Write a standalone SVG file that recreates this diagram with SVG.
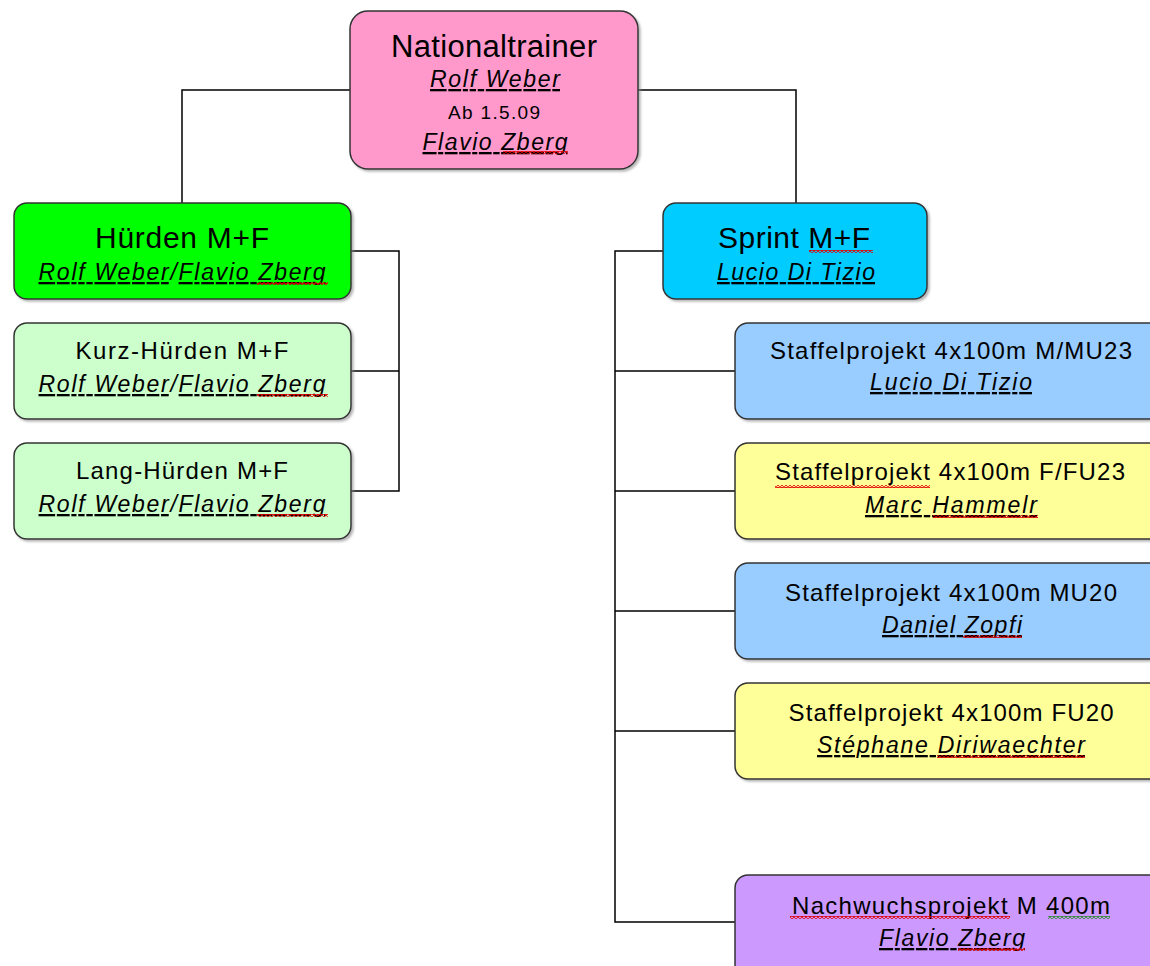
<svg xmlns="http://www.w3.org/2000/svg" width="1150" height="966" viewBox="0 0 1150 966">
<defs>
<filter id="sh" x="-5%" y="-5%" width="115%" height="120%">
<feDropShadow dx="2" dy="2" stdDeviation="1" flood-color="#888" flood-opacity="0.6"/>
</filter>
<pattern id="sqr" patternUnits="userSpaceOnUse" width="4" height="3">
<path d="M0,0.5 L2,2.5 L4,0.5" fill="none" stroke="#e00000" stroke-width="1.2"/>
</pattern>
<pattern id="sqg" patternUnits="userSpaceOnUse" width="4" height="3">
<path d="M0,0.5 L2,2.5 L4,0.5" fill="none" stroke="#2a8a2a" stroke-width="1.2"/>
</pattern>
</defs>
<style>
.box{stroke:#333;stroke-width:1.5;filter:url(#sh)}
text{font-family:"Liberation Sans",Arial,sans-serif;fill:#000;text-anchor:middle}
.nm{font-style:italic}
.u{text-decoration:underline}
.c{fill:none;stroke:#000;stroke-width:1.5}
</style>
<rect width="1150" height="966" fill="#fff"/>
<g id="connectors">
<polyline class="c" points="350,90 182,90 182,203"/>
<polyline class="c" points="638,90 796,90 796,203"/>
<polyline class="c" points="351,251 399,251 399,491 351,491"/>
<line class="c" x1="351" y1="371" x2="399" y2="371"/>
<polyline class="c" points="663,251 615,251 615,922 735,922"/>
<line class="c" x1="615" y1="371" x2="735" y2="371"/>
<line class="c" x1="615" y1="491" x2="735" y2="491"/>
<line class="c" x1="615" y1="611" x2="735" y2="611"/>
<line class="c" x1="615" y1="731" x2="735" y2="731"/>
</g>
<g id="nationaltrainer">
<rect class="box" x="350" y="11" width="288" height="158" rx="18" fill="#ff99cc"/>
<text x="494" y="57" font-size="31" textLength="206" lengthAdjust="spacing">Nationaltrainer</text>
<text x="495" y="87" font-size="23" class="nm u" textLength="130" lengthAdjust="spacing">Rolf Weber</text>
<text x="494" y="119" font-size="19" textLength="92" lengthAdjust="spacing">Ab 1.5.09</text>
<text x="495" y="150" font-size="23" class="nm u" textLength="145" lengthAdjust="spacing">Flavio Zberg</text>
<rect x="503" y="151" width="65" height="3" fill="url(#sqr)"/>
</g>
<g id="huerden">
<rect class="box" x="14" y="203" width="337" height="96" rx="13" fill="#00ff00"/>
<text x="182" y="248" font-size="30" textLength="174" lengthAdjust="spacing">Hürden M+F</text>
<text x="182" y="280" font-size="23" class="nm" textLength="287" lengthAdjust="spacing"><tspan class="u">Rolf Weber</tspan>/<tspan class="u">Flavio Zberg</tspan></text>
<rect x="257" y="282" width="71" height="3" fill="url(#sqr)"/>
</g>
<g id="kurz-huerden">
<rect class="box" x="14" y="323" width="337" height="96" rx="13" fill="#ccffcc"/>
<text x="182" y="359" font-size="24" textLength="213" lengthAdjust="spacing">Kurz-Hürden M+F</text>
<text x="182" y="392" font-size="23" class="nm" textLength="287" lengthAdjust="spacing"><tspan class="u">Rolf Weber</tspan>/<tspan class="u">Flavio Zberg</tspan></text>
<rect x="257" y="394" width="71" height="3" fill="url(#sqr)"/>
</g>
<g id="lang-huerden">
<rect class="box" x="14" y="443" width="337" height="96" rx="13" fill="#ccffcc"/>
<text x="182" y="479" font-size="24" textLength="212" lengthAdjust="spacing">Lang-Hürden M+F</text>
<text x="182" y="512" font-size="23" class="nm" textLength="287" lengthAdjust="spacing"><tspan class="u">Rolf Weber</tspan>/<tspan class="u">Flavio Zberg</tspan></text>
<rect x="257" y="514" width="71" height="3" fill="url(#sqr)"/>
</g>
<g id="sprint">
<rect class="box" x="663" y="203" width="264" height="96" rx="13" fill="#00ccff"/>
<text x="794" y="248" font-size="30" textLength="152" lengthAdjust="spacing">Sprint M+F</text>
<rect x="809" y="250" width="64" height="3" fill="url(#sqr)"/>
<text x="796" y="280" font-size="23" class="nm u" textLength="158" lengthAdjust="spacing">Lucio Di Tizio</text>
</g>
<g id="staffel-m-mu23">
<rect class="box" x="735" y="323" width="440" height="96" rx="13" fill="#99ccff"/>
<text x="951" y="359" font-size="24" textLength="362" lengthAdjust="spacing">Staffelprojekt 4x100m M/MU23</text>
<text x="951" y="390" font-size="23" class="nm u" textLength="162" lengthAdjust="spacing">Lucio Di Tizio</text>
</g>
<g id="staffel-f-fu23">
<rect class="box" x="735" y="443" width="440" height="96" rx="13" fill="#ffff99"/>
<text x="950" y="480" font-size="24" textLength="350" lengthAdjust="spacing">Staffelprojekt 4x100m F/FU23</text>
<rect x="775" y="485" width="155" height="3" fill="url(#sqr)"/>
<text x="951" y="513" font-size="23" class="nm u" textLength="172" lengthAdjust="spacing">Marc Hammelr</text>
<rect x="933" y="515" width="105" height="3" fill="url(#sqr)"/>
</g>
<g id="staffel-mu20">
<rect class="box" x="735" y="563" width="440" height="96" rx="13" fill="#99ccff"/>
<text x="951" y="601" font-size="24" textLength="332" lengthAdjust="spacing">Staffelprojekt 4x100m MU20</text>
<text x="952" y="633" font-size="23" class="nm u" textLength="140" lengthAdjust="spacing">Daniel Zopfi</text>
<rect x="963" y="635" width="59" height="3" fill="url(#sqr)"/>
</g>
<g id="staffel-fu20">
<rect class="box" x="735" y="683" width="440" height="96" rx="13" fill="#ffff99"/>
<text x="951" y="721" font-size="24" textLength="325" lengthAdjust="spacing">Staffelprojekt 4x100m FU20</text>
<text x="951" y="753" font-size="23" class="nm u" textLength="268" lengthAdjust="spacing">Stéphane Diriwaechter</text>
<rect x="937" y="755" width="148" height="3" fill="url(#sqr)"/>
</g>
<g id="nachwuchs">
<rect class="box" x="735" y="875" width="440" height="110" rx="13" fill="#cc99ff"/>
<text x="951" y="914" font-size="24" textLength="318" lengthAdjust="spacing">Nachwuchsprojekt M 400m</text>
<rect x="790" y="916" width="220" height="3" fill="url(#sqr)"/>
<rect x="1048" y="916" width="62" height="3" fill="url(#sqg)"/>
<text x="952" y="946" font-size="23" class="nm u" textLength="146" lengthAdjust="spacing">Flavio Zberg</text>
<rect x="958" y="948" width="67" height="3" fill="url(#sqr)"/>
</g>
</svg>
